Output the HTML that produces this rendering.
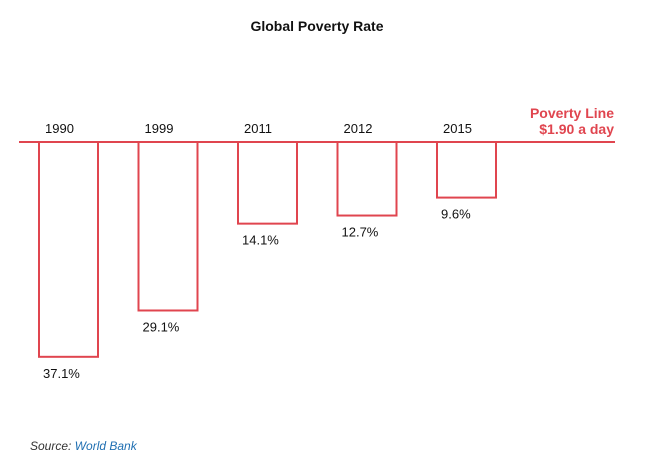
<!DOCTYPE html>
<html><head><meta charset="utf-8"><style>
body{margin:0;background:#fff;font-family:"Liberation Sans",sans-serif;}
svg{display:block}
</style></head><body>
<svg width="646" height="472">
<text x="317" y="31" text-anchor="middle" font-size="14" font-weight="bold" fill="#111">Global Poverty Rate</text>
<line x1="19" y1="142" x2="615" y2="142" stroke="#e0454f" stroke-width="2"/>
<text x="614" y="118" text-anchor="end" font-size="14" font-weight="bold" fill="#e0454f">Poverty Line</text>
<text x="614" y="134" text-anchor="end" font-size="14" font-weight="bold" fill="#e0454f">$1.90 a day</text>
<g id="bars"></g>
<text x="30" y="450" font-size="12" font-style="italic" fill="#333">Source: <tspan fill="#1f6fb2">World Bank</tspan></text>
</svg>
<script>
const years=["1990","1999","2011","2012","2015"];
const rates=[37.1,29.1,14.1,12.7,9.6];
const g=document.getElementById('bars');
const NS="http://www.w3.org/2000/svg";
const x0=39,step=99.5,bw=59,baseY=142,k=5.79;
function xs(i){return x0+i*step;}
function ys(v){return baseY+v*k;}
years.forEach((yr,i)=>{
  const r=document.createElementNS(NS,'rect');
  r.setAttribute('x',xs(i));r.setAttribute('y',baseY);
  r.setAttribute('width',bw);r.setAttribute('height',ys(rates[i])-baseY);
  r.setAttribute('fill','none');r.setAttribute('stroke','#e0454f');r.setAttribute('stroke-width','2');
  
  
  g.appendChild(r);
  const t=document.createElementNS(NS,'text');
  t.setAttribute('x',xs(i)+6);t.setAttribute('y',133);
  t.setAttribute('font-size','13');t.setAttribute('fill','#111');
  t.textContent=yr;
  
  
  g.appendChild(t);
  const v=document.createElementNS(NS,'text');
  v.setAttribute('x',xs(i)+4);v.setAttribute('y',ys(rates[i])+21);
  v.setAttribute('font-size','13');v.setAttribute('fill','#111');
  v.textContent=rates[i].toFixed(1)+'%';
  
  
  g.appendChild(v);
});
</script>
</body></html>
